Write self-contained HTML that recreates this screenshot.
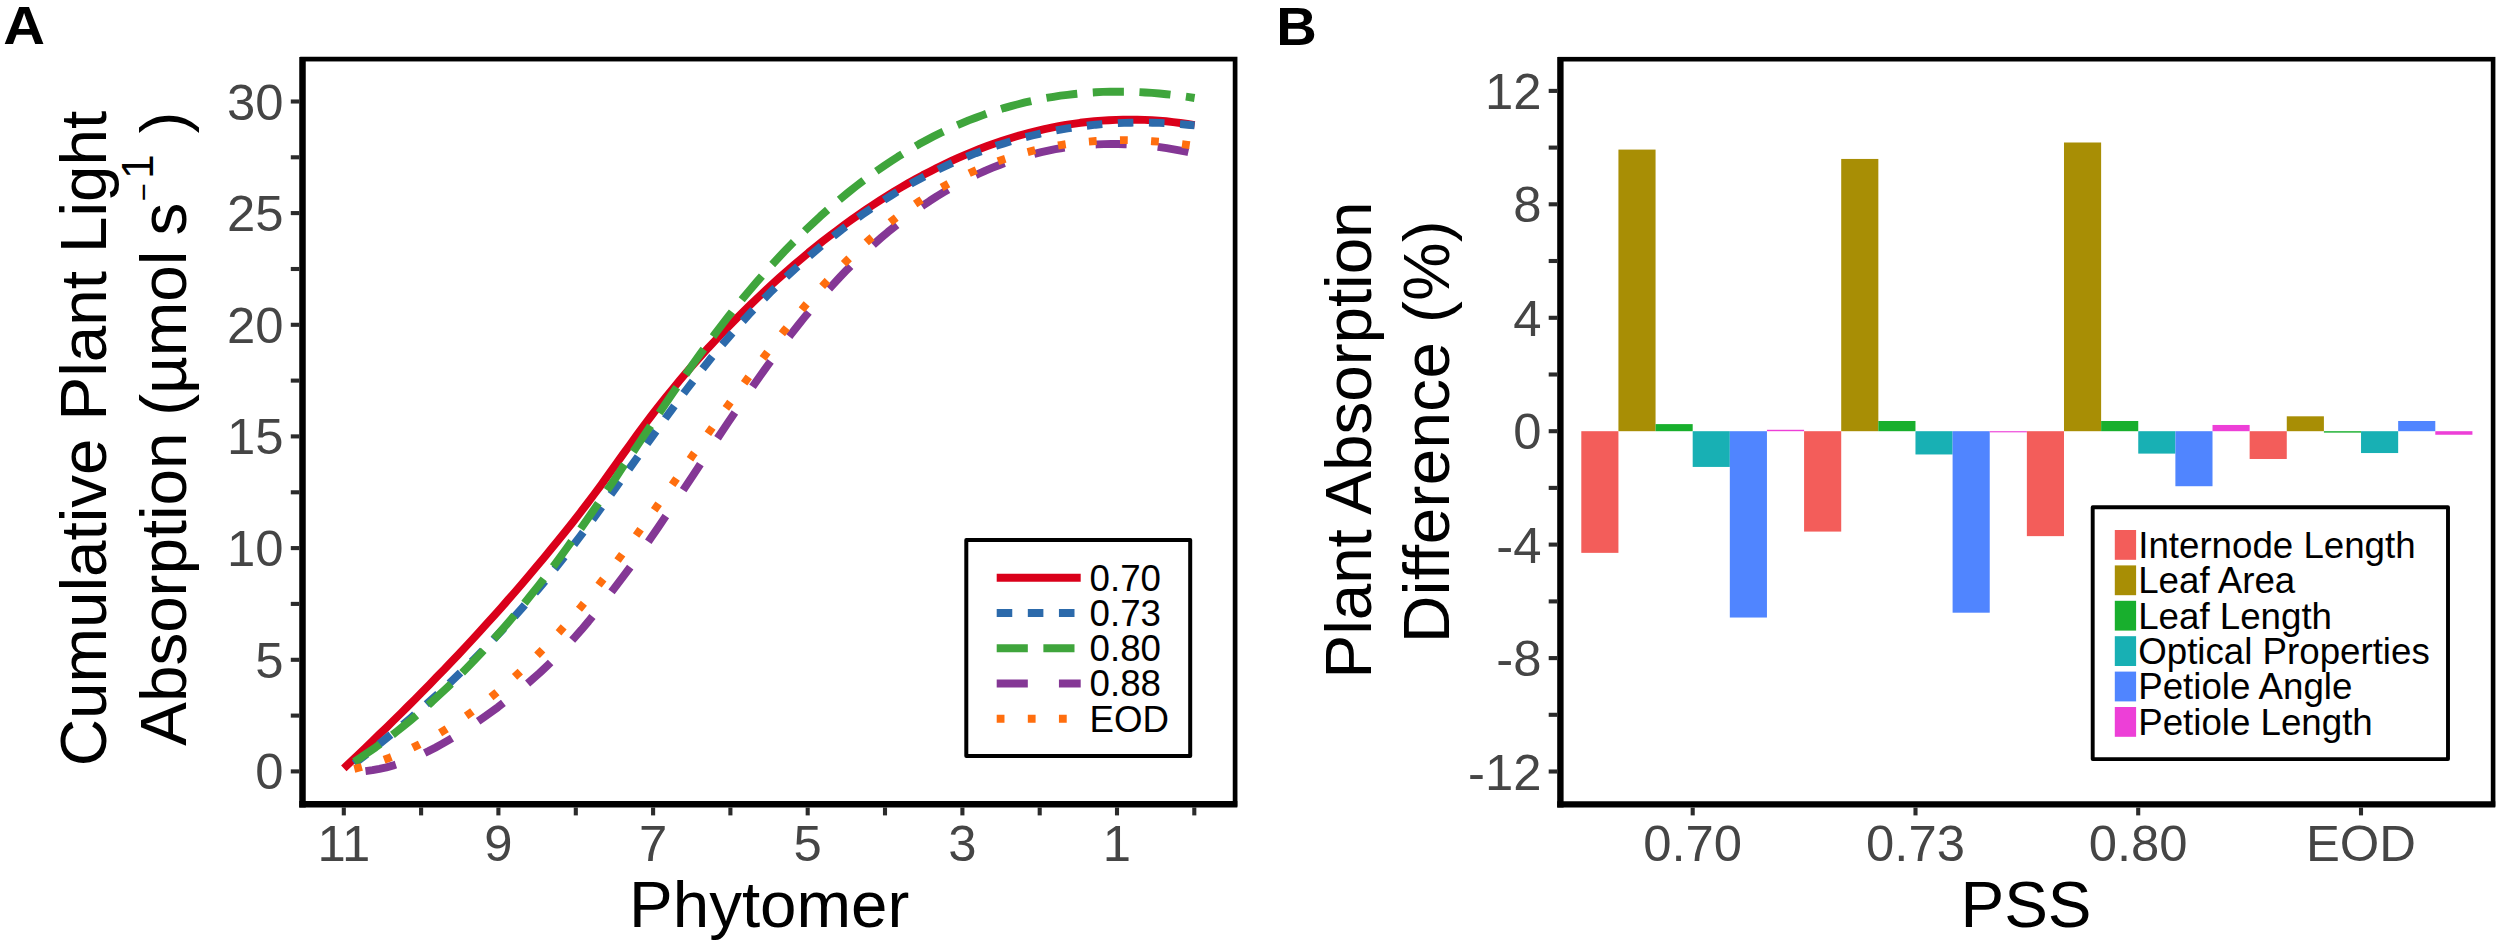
<!DOCTYPE html>
<html lang="en"><head><meta charset="utf-8"><title>Figure: plant light absorption</title>
<style>html,body{margin:0;padding:0;background:#fff}svg{display:block}text{font-family:"Liberation Sans", Arial, Helvetica, sans-serif}</style>
</head><body>
<svg width="2500" height="945" viewBox="0 0 2500 945">
<rect x="0" y="0" width="2500" height="945" fill="#fff"/>
<g id="panelA">
<path d="M343.8,768.3 L350.9,761.6 L358.1,754.8 L365.2,748.0 L372.4,741.1 L379.5,734.2 L386.7,727.3 L393.8,720.3 L401.0,713.2 L408.1,706.1 L415.3,699.0 L422.4,691.8 L429.6,684.5 L436.7,677.1 L443.9,669.7 L451.0,662.2 L458.2,654.7 L465.3,647.1 L472.5,639.4 L479.6,631.6 L486.8,623.7 L493.9,615.8 L501.1,607.8 L508.2,599.7 L515.4,591.5 L522.5,583.2 L529.7,574.8 L536.8,566.3 L544.0,557.8 L551.1,549.1 L558.3,540.3 L565.4,531.5 L572.6,522.5 L579.7,513.3 L586.9,504.0 L594.0,494.5 L601.2,484.8 L608.3,474.9 L615.5,464.9 L622.6,454.9 L629.8,445.0 L636.9,435.1 L644.1,425.4 L651.2,416.0 L658.4,406.7 L665.5,397.7 L672.7,388.9 L679.8,380.3 L687.0,371.8 L694.1,363.6 L701.3,355.6 L708.4,347.7 L715.6,340.1 L722.7,332.5 L729.9,325.2 L737.0,317.9 L744.2,310.8 L751.3,303.9 L758.5,297.0 L765.6,290.3 L772.8,283.7 L779.9,277.3 L787.1,271.0 L794.2,264.8 L801.4,258.7 L808.5,252.7 L815.7,246.9 L822.8,241.2 L830.0,235.7 L837.1,230.3 L844.3,224.9 L851.4,219.8 L858.6,214.7 L865.7,209.8 L872.9,205.0 L880.0,200.4 L887.2,195.8 L894.3,191.4 L901.5,187.2 L908.6,183.0 L915.8,179.0 L922.9,175.1 L930.1,171.4 L937.2,167.7 L944.4,164.2 L951.5,160.9 L958.7,157.7 L965.8,154.6 L973.0,151.6 L980.1,148.7 L987.3,146.0 L994.4,143.5 L1001.6,141.0 L1008.7,138.7 L1015.9,136.5 L1023.0,134.5 L1030.2,132.5 L1037.3,130.8 L1044.5,129.1 L1051.6,127.6 L1058.8,126.2 L1065.9,124.9 L1073.1,123.8 L1080.2,122.8 L1087.4,122.0 L1094.5,121.2 L1101.7,120.6 L1108.8,120.2 L1116.0,119.9 L1123.1,119.7 L1130.3,119.6 L1137.4,119.7 L1144.6,119.9 L1151.7,120.2 L1158.9,120.7 L1166.0,121.3 L1173.2,122.1 L1180.3,123.0 L1187.5,124.0 L1194.6,125.1" fill="none" stroke="#DA001A" stroke-width="7.9" stroke-linejoin="round"/>
<path d="M354.3,763.6 L361.4,758.2 L368.4,752.6 L375.5,747.1 L382.5,741.4 L389.6,735.6 L396.7,729.8 L403.7,723.9 L410.8,717.9 L417.9,711.8 L424.9,705.6 L432.0,699.3 L439.0,692.9 L446.1,686.3 L453.2,679.7 L460.2,672.9 L467.3,666.1 L474.3,659.0 L481.4,651.9 L488.5,644.6 L495.5,637.2 L502.6,629.7 L509.6,622.0 L516.7,614.1 L523.8,606.1 L530.8,597.9 L537.9,589.6 L545.0,581.1 L552.0,572.4 L559.1,563.6 L566.1,554.6 L573.2,545.4 L580.3,536.1 L587.3,526.6 L594.4,517.1 L601.4,507.4 L608.5,497.7 L615.6,487.9 L622.6,478.0 L629.7,468.1 L636.8,458.2 L643.8,448.3 L650.9,438.4 L657.9,428.6 L665.0,418.8 L672.1,409.1 L679.1,399.5 L686.2,390.0 L693.2,380.8 L700.3,371.6 L707.4,362.7 L714.4,354.0 L721.5,345.5 L728.6,337.3 L735.6,329.2 L742.7,321.4 L749.7,313.7 L756.8,306.2 L763.9,298.9 L770.9,291.8 L778.0,284.9 L785.0,278.1 L792.1,271.5 L799.2,265.1 L806.2,258.8 L813.3,252.7 L820.3,246.8 L827.4,241.0 L834.5,235.3 L841.5,229.8 L848.6,224.5 L855.7,219.3 L862.7,214.3 L869.8,209.4 L876.8,204.6 L883.9,200.1 L891.0,195.6 L898.0,191.3 L905.1,187.2 L912.1,183.1 L919.2,179.3 L926.3,175.5 L933.3,171.9 L940.4,168.5 L947.5,165.2 L954.5,162.0 L961.6,158.9 L968.6,156.0 L975.7,153.2 L982.8,150.6 L989.8,148.0 L996.9,145.6 L1003.9,143.4 L1011.0,141.2 L1018.1,139.2 L1025.1,137.3 L1032.2,135.5 L1039.3,133.8 L1046.3,132.3 L1053.4,130.9 L1060.4,129.6 L1067.5,128.4 L1074.6,127.3 L1081.6,126.3 L1088.7,125.5 L1095.7,124.7 L1102.8,124.1 L1109.9,123.6 L1116.9,123.2 L1124.0,122.9 L1131.0,122.7 L1138.1,122.6 L1145.2,122.6 L1152.2,122.7 L1159.3,122.9 L1166.4,123.2 L1173.4,123.6 L1180.5,124.1 L1187.5,124.7 L1194.6,125.4" fill="none" stroke="#2C6AAB" stroke-width="7.9" stroke-linejoin="round" stroke-dasharray="15.56 15.56"/>
<path d="M354.3,761.7 L361.4,757.1 L368.4,752.3 L375.5,747.4 L382.5,742.3 L389.6,737.0 L396.7,731.5 L403.7,725.9 L410.8,720.1 L417.9,714.1 L424.9,708.0 L432.0,701.7 L439.0,695.2 L446.1,688.6 L453.2,681.8 L460.2,674.8 L467.3,667.6 L474.3,660.3 L481.4,652.8 L488.5,645.1 L495.5,637.2 L502.6,629.2 L509.6,621.0 L516.7,612.6 L523.8,604.1 L530.8,595.3 L537.9,586.4 L545.0,577.3 L552.0,568.1 L559.1,558.6 L566.1,549.0 L573.2,539.2 L580.3,529.3 L587.3,519.2 L594.4,509.0 L601.4,498.7 L608.5,488.3 L615.6,477.9 L622.6,467.4 L629.7,456.9 L636.8,446.4 L643.8,435.9 L650.9,425.3 L657.9,414.9 L665.0,404.5 L672.1,394.1 L679.1,383.9 L686.2,373.8 L693.2,363.8 L700.3,353.9 L707.4,344.2 L714.4,334.7 L721.5,325.4 L728.6,316.2 L735.6,307.3 L742.7,298.6 L749.7,290.2 L756.8,281.9 L763.9,273.8 L770.9,265.9 L778.0,258.2 L785.0,250.8 L792.1,243.5 L799.2,236.4 L806.2,229.5 L813.3,222.8 L820.3,216.3 L827.4,210.0 L834.5,203.8 L841.5,197.9 L848.6,192.1 L855.7,186.5 L862.7,181.1 L869.8,175.9 L876.8,170.9 L883.9,166.0 L891.0,161.3 L898.0,156.7 L905.1,152.4 L912.1,148.2 L919.2,144.1 L926.3,140.3 L933.3,136.6 L940.4,133.0 L947.5,129.7 L954.5,126.4 L961.6,123.4 L968.6,120.4 L975.7,117.7 L982.8,115.1 L989.8,112.6 L996.9,110.3 L1003.9,108.1 L1011.0,106.1 L1018.1,104.2 L1025.1,102.4 L1032.2,100.8 L1039.3,99.3 L1046.3,98.0 L1053.4,96.8 L1060.4,95.7 L1067.5,94.8 L1074.6,94.0 L1081.6,93.3 L1088.7,92.7 L1095.7,92.3 L1102.8,91.9 L1109.9,91.7 L1116.9,91.7 L1124.0,91.7 L1131.0,91.8 L1138.1,92.1 L1145.2,92.5 L1152.2,92.9 L1159.3,93.5 L1166.4,94.2 L1173.4,95.0 L1180.5,95.9 L1187.5,96.9 L1194.6,98.0" fill="none" stroke="#3FA53C" stroke-width="7.9" stroke-linejoin="round" stroke-dasharray="31.12 15.56"/>
<path d="M365.5,771.1 L372.5,770.2 L379.4,768.9 L386.4,767.4 L393.4,765.4 L400.3,763.2 L407.3,760.6 L414.3,757.8 L421.2,754.7 L428.2,751.3 L435.2,747.7 L442.1,743.9 L449.1,739.8 L456.1,735.6 L463.0,731.2 L470.0,726.7 L477.0,722.0 L483.9,717.2 L490.9,712.3 L497.9,707.2 L504.8,701.9 L511.8,696.5 L518.8,690.9 L525.7,685.1 L532.7,679.1 L539.7,672.9 L546.6,666.4 L553.6,659.6 L560.6,652.6 L567.5,645.3 L574.5,637.6 L581.5,629.7 L588.5,621.4 L595.4,612.8 L602.4,603.8 L609.4,594.7 L616.3,585.6 L623.3,576.3 L630.3,566.9 L637.2,557.3 L644.2,547.5 L651.2,537.5 L658.1,527.4 L665.1,517.1 L672.1,506.8 L679.0,496.4 L686.0,485.9 L693.0,475.4 L699.9,464.8 L706.9,454.3 L713.9,443.8 L720.8,433.3 L727.8,422.9 L734.8,412.6 L741.7,402.3 L748.7,392.2 L755.7,382.2 L762.6,372.4 L769.6,362.7 L776.6,353.2 L783.5,343.9 L790.5,334.8 L797.5,326.0 L804.4,317.4 L811.4,309.0 L818.4,300.9 L825.3,293.0 L832.3,285.3 L839.3,277.8 L846.2,270.6 L853.2,263.6 L860.2,256.9 L867.1,250.3 L874.1,244.0 L881.1,237.8 L888.0,231.9 L895.0,226.3 L902.0,220.8 L908.9,215.5 L915.9,210.4 L922.9,205.6 L929.8,200.9 L936.8,196.4 L943.8,192.2 L950.7,188.1 L957.7,184.2 L964.7,180.6 L971.6,177.1 L978.6,173.8 L985.6,170.6 L992.6,167.7 L999.5,165.0 L1006.5,162.4 L1013.5,160.0 L1020.4,157.8 L1027.4,155.7 L1034.4,153.8 L1041.3,152.1 L1048.3,150.6 L1055.3,149.2 L1062.2,148.0 L1069.2,147.0 L1076.2,146.1 L1083.1,145.4 L1090.1,144.8 L1097.1,144.4 L1104.0,144.1 L1111.0,144.0 L1118.0,144.0 L1124.9,144.2 L1131.9,144.5 L1138.9,145.0 L1145.8,145.6 L1152.8,146.3 L1159.8,147.2 L1166.7,148.2 L1173.7,149.4 L1180.7,150.6 L1187.6,152.0 L1194.6,153.6" fill="none" stroke="#843795" stroke-width="7.9" stroke-linejoin="round" stroke-dasharray="31.12 31.12"/>
<path d="M354.3,768.8 L361.4,767.0 L368.4,765.0 L375.5,762.8 L382.5,760.3 L389.6,757.7 L396.7,754.9 L403.7,751.8 L410.8,748.6 L417.9,745.1 L424.9,741.5 L432.0,737.6 L439.0,733.5 L446.1,729.2 L453.2,724.7 L460.2,720.0 L467.3,715.1 L474.3,710.0 L481.4,704.7 L488.5,699.1 L495.5,693.4 L502.6,687.4 L509.6,681.3 L516.7,674.9 L523.8,668.3 L530.8,661.5 L537.9,654.4 L545.0,647.2 L552.0,639.7 L559.1,632.1 L566.1,624.2 L573.2,616.1 L580.3,607.7 L587.3,599.2 L594.4,590.5 L601.4,581.5 L608.5,572.4 L615.6,563.1 L622.6,553.7 L629.7,544.2 L636.8,534.5 L643.8,524.7 L650.9,514.8 L657.9,504.9 L665.0,494.9 L672.1,484.9 L679.1,474.8 L686.2,464.7 L693.2,454.6 L700.3,444.5 L707.4,434.5 L714.4,424.5 L721.5,414.5 L728.6,404.6 L735.6,394.8 L742.7,385.2 L749.7,375.6 L756.8,366.2 L763.9,356.8 L770.9,347.7 L778.0,338.7 L785.0,329.8 L792.1,321.2 L799.2,312.7 L806.2,304.4 L813.3,296.2 L820.3,288.3 L827.4,280.6 L834.5,273.2 L841.5,265.9 L848.6,258.9 L855.7,252.1 L862.7,245.6 L869.8,239.2 L876.8,233.2 L883.9,227.3 L891.0,221.7 L898.0,216.3 L905.1,211.1 L912.1,206.1 L919.2,201.3 L926.3,196.7 L933.3,192.4 L940.4,188.2 L947.5,184.3 L954.5,180.5 L961.6,176.9 L968.6,173.5 L975.7,170.3 L982.8,167.3 L989.8,164.4 L996.9,161.7 L1003.9,159.2 L1011.0,156.9 L1018.1,154.7 L1025.1,152.7 L1032.2,150.9 L1039.3,149.2 L1046.3,147.7 L1053.4,146.3 L1060.4,145.1 L1067.5,144.0 L1074.6,143.0 L1081.6,142.2 L1088.7,141.6 L1095.7,141.0 L1102.8,140.6 L1109.9,140.3 L1116.9,140.2 L1124.0,140.1 L1131.0,140.2 L1138.1,140.4 L1145.2,140.7 L1152.2,141.2 L1159.3,141.7 L1166.4,142.3 L1173.4,143.0 L1180.5,143.9 L1187.5,144.8 L1194.6,145.8" fill="none" stroke="#FF6E0E" stroke-width="7.9" stroke-linejoin="round" stroke-dasharray="7.78 23.34"/>
<rect x="302.5" y="59.1" width="932.6" height="745.2" fill="none" stroke="#000" stroke-width="4.7"/>
<line x1="302.5" y1="56.9" x2="302.5" y2="807.5" stroke="#000" stroke-width="6.5"/>
<line x1="299.25" y1="804.3" x2="1237.3" y2="804.3" stroke="#000" stroke-width="6.4"/>
<line x1="290.8" y1="771.4" x2="299.3" y2="771.4" stroke="#2b2b2b" stroke-width="4.1"/>
<line x1="290.8" y1="715.6" x2="299.3" y2="715.6" stroke="#2b2b2b" stroke-width="4.1"/>
<line x1="290.8" y1="659.8" x2="299.3" y2="659.8" stroke="#2b2b2b" stroke-width="4.1"/>
<line x1="290.8" y1="603.9" x2="299.3" y2="603.9" stroke="#2b2b2b" stroke-width="4.1"/>
<line x1="290.8" y1="548.1" x2="299.3" y2="548.1" stroke="#2b2b2b" stroke-width="4.1"/>
<line x1="290.8" y1="492.3" x2="299.3" y2="492.3" stroke="#2b2b2b" stroke-width="4.1"/>
<line x1="290.8" y1="436.4" x2="299.3" y2="436.4" stroke="#2b2b2b" stroke-width="4.1"/>
<line x1="290.8" y1="380.6" x2="299.3" y2="380.6" stroke="#2b2b2b" stroke-width="4.1"/>
<line x1="290.8" y1="324.8" x2="299.3" y2="324.8" stroke="#2b2b2b" stroke-width="4.1"/>
<line x1="290.8" y1="269.0" x2="299.3" y2="269.0" stroke="#2b2b2b" stroke-width="4.1"/>
<line x1="290.8" y1="213.1" x2="299.3" y2="213.1" stroke="#2b2b2b" stroke-width="4.1"/>
<line x1="290.8" y1="157.3" x2="299.3" y2="157.3" stroke="#2b2b2b" stroke-width="4.1"/>
<line x1="290.8" y1="101.5" x2="299.3" y2="101.5" stroke="#2b2b2b" stroke-width="4.1"/>
<text x="283.5" y="789.4" font-size="50.8" fill="#454545" text-anchor="end">0</text>
<text x="283.5" y="677.8" font-size="50.8" fill="#454545" text-anchor="end">5</text>
<text x="283.5" y="566.1" font-size="50.8" fill="#454545" text-anchor="end">10</text>
<text x="283.5" y="454.4" font-size="50.8" fill="#454545" text-anchor="end">15</text>
<text x="283.5" y="342.8" font-size="50.8" fill="#454545" text-anchor="end">20</text>
<text x="283.5" y="231.1" font-size="50.8" fill="#454545" text-anchor="end">25</text>
<text x="283.5" y="119.5" font-size="50.8" fill="#454545" text-anchor="end">30</text>
<line x1="1194.3" y1="807.5" x2="1194.3" y2="815.4" stroke="#2b2b2b" stroke-width="4.1"/>
<line x1="1117.0" y1="807.5" x2="1117.0" y2="815.4" stroke="#2b2b2b" stroke-width="4.1"/>
<line x1="1039.7" y1="807.5" x2="1039.7" y2="815.4" stroke="#2b2b2b" stroke-width="4.1"/>
<line x1="962.4" y1="807.5" x2="962.4" y2="815.4" stroke="#2b2b2b" stroke-width="4.1"/>
<line x1="885.0" y1="807.5" x2="885.0" y2="815.4" stroke="#2b2b2b" stroke-width="4.1"/>
<line x1="807.7" y1="807.5" x2="807.7" y2="815.4" stroke="#2b2b2b" stroke-width="4.1"/>
<line x1="730.4" y1="807.5" x2="730.4" y2="815.4" stroke="#2b2b2b" stroke-width="4.1"/>
<line x1="653.1" y1="807.5" x2="653.1" y2="815.4" stroke="#2b2b2b" stroke-width="4.1"/>
<line x1="575.8" y1="807.5" x2="575.8" y2="815.4" stroke="#2b2b2b" stroke-width="4.1"/>
<line x1="498.4" y1="807.5" x2="498.4" y2="815.4" stroke="#2b2b2b" stroke-width="4.1"/>
<line x1="421.1" y1="807.5" x2="421.1" y2="815.4" stroke="#2b2b2b" stroke-width="4.1"/>
<line x1="343.8" y1="807.5" x2="343.8" y2="815.4" stroke="#2b2b2b" stroke-width="4.1"/>
<text x="343.8" y="861" font-size="50.8" fill="#454545" text-anchor="middle">11</text>
<text x="498.4" y="861" font-size="50.8" fill="#454545" text-anchor="middle">9</text>
<text x="653.1" y="861" font-size="50.8" fill="#454545" text-anchor="middle">7</text>
<text x="807.7" y="861" font-size="50.8" fill="#454545" text-anchor="middle">5</text>
<text x="962.4" y="861" font-size="50.8" fill="#454545" text-anchor="middle">3</text>
<text x="1117.0" y="861" font-size="50.8" fill="#454545" text-anchor="middle">1</text>
<text x="769.2" y="927" font-size="65.5" fill="#000" text-anchor="middle">Phytomer</text>
<text transform="translate(106.2,438.6) rotate(-90)" font-size="65.5" fill="#000" text-anchor="middle">Cumulative Plant Light</text>
<text transform="translate(186.4,745.7) rotate(-90)" font-size="65.5" fill="#000" text-anchor="start">Absorption</text>
<text transform="translate(186.4,415.8) rotate(-90)" font-size="65.5" fill="#000" text-anchor="start">(µmol</text>
<text transform="translate(186.4,235.5) rotate(-90)" font-size="65.5" fill="#000" text-anchor="start">s</text>
<text transform="translate(153.5,201.5) rotate(-90)" font-size="31" fill="#000" text-anchor="start">−</text>
<text transform="translate(152.6,179) rotate(-90)" font-size="44.5" fill="#000" text-anchor="start">1</text>
<text transform="translate(186.4,133.5) rotate(-90)" font-size="65.5" fill="#000" text-anchor="start">)</text>
<rect x="966.3" y="539.9" width="223.9" height="216.2" fill="#fff" stroke="#000" stroke-width="4" stroke-linejoin="round"/>
<line x1="996.7" y1="577.8" x2="1080.7" y2="577.8" stroke="#DA001A" stroke-width="7.9"/>
<text x="1089.6" y="590.7" font-size="36.7" fill="#000">0.70</text>
<line x1="996.7" y1="613.0" x2="1080.7" y2="613.0" stroke="#2C6AAB" stroke-width="7.9" stroke-dasharray="15.56 15.56"/>
<text x="1089.6" y="625.9" font-size="36.7" fill="#000">0.73</text>
<line x1="996.7" y1="648.3" x2="1080.7" y2="648.3" stroke="#3FA53C" stroke-width="7.9" stroke-dasharray="31.12 15.56"/>
<text x="1089.6" y="661.2" font-size="36.7" fill="#000">0.80</text>
<line x1="996.7" y1="683.5" x2="1080.7" y2="683.5" stroke="#843795" stroke-width="7.9" stroke-dasharray="31.12 31.12"/>
<text x="1089.6" y="696.4" font-size="36.7" fill="#000">0.88</text>
<line x1="996.7" y1="718.8" x2="1080.7" y2="718.8" stroke="#FF6E0E" stroke-width="7.9" stroke-dasharray="7.78 23.34"/>
<text x="1089.6" y="731.7" font-size="36.7" fill="#000">EOD</text>
<text transform="translate(3.2,44.3) scale(1.07,1)" font-size="54" font-weight="bold" fill="#000">A</text>
</g>
<g id="panelB">
<rect x="1581.30" y="431.20" width="37.13" height="121.66" fill="#F35D5A"/>
<rect x="1618.43" y="149.59" width="37.13" height="281.61" fill="#A88E05"/>
<rect x="1655.56" y="424.11" width="37.13" height="7.09" fill="#18AF2D"/>
<rect x="1692.69" y="431.20" width="37.13" height="35.73" fill="#18B0B4"/>
<rect x="1729.82" y="431.20" width="37.13" height="186.33" fill="#5085FF"/>
<rect x="1766.95" y="429.78" width="37.13" height="1.42" fill="#ED3FD7"/>
<rect x="1804.08" y="431.20" width="37.13" height="100.39" fill="#F35D5A"/>
<rect x="1841.21" y="158.94" width="37.13" height="272.26" fill="#A88E05"/>
<rect x="1878.34" y="420.99" width="37.13" height="10.21" fill="#18AF2D"/>
<rect x="1915.47" y="431.20" width="37.13" height="23.26" fill="#18B0B4"/>
<rect x="1952.60" y="431.20" width="37.13" height="181.50" fill="#5085FF"/>
<rect x="1989.73" y="431.20" width="37.13" height="1.13" fill="#ED3FD7"/>
<rect x="2026.86" y="431.20" width="37.13" height="104.93" fill="#F35D5A"/>
<rect x="2063.99" y="142.50" width="37.13" height="288.70" fill="#A88E05"/>
<rect x="2101.12" y="420.99" width="37.13" height="10.21" fill="#18AF2D"/>
<rect x="2138.25" y="431.20" width="37.13" height="22.40" fill="#18B0B4"/>
<rect x="2175.38" y="431.20" width="37.13" height="55.02" fill="#5085FF"/>
<rect x="2212.51" y="424.96" width="37.13" height="6.24" fill="#ED3FD7"/>
<rect x="2249.64" y="431.20" width="37.13" height="27.79" fill="#F35D5A"/>
<rect x="2286.77" y="416.31" width="37.13" height="14.89" fill="#A88E05"/>
<rect x="2323.90" y="431.20" width="37.13" height="1.42" fill="#18AF2D"/>
<rect x="2361.03" y="431.20" width="37.13" height="21.84" fill="#18B0B4"/>
<rect x="2398.16" y="420.99" width="37.13" height="10.21" fill="#5085FF"/>
<rect x="2435.29" y="431.20" width="37.13" height="3.55" fill="#ED3FD7"/>
<rect x="1560.4" y="59.2" width="932.7" height="745.2" fill="none" stroke="#000" stroke-width="4.6"/>
<line x1="1560.4" y1="57.050000000000004" x2="1560.4" y2="807.6" stroke="#000" stroke-width="6.4"/>
<line x1="1557.2" y1="804.4" x2="2495.25" y2="804.4" stroke="#000" stroke-width="6.4"/>
<line x1="1548.7" y1="771.5" x2="1557.2" y2="771.5" stroke="#2b2b2b" stroke-width="4.1"/>
<line x1="1548.7" y1="714.8" x2="1557.2" y2="714.8" stroke="#2b2b2b" stroke-width="4.1"/>
<line x1="1548.7" y1="658.1" x2="1557.2" y2="658.1" stroke="#2b2b2b" stroke-width="4.1"/>
<line x1="1548.7" y1="601.4" x2="1557.2" y2="601.4" stroke="#2b2b2b" stroke-width="4.1"/>
<line x1="1548.7" y1="544.6" x2="1557.2" y2="544.6" stroke="#2b2b2b" stroke-width="4.1"/>
<line x1="1548.7" y1="487.9" x2="1557.2" y2="487.9" stroke="#2b2b2b" stroke-width="4.1"/>
<line x1="1548.7" y1="431.2" x2="1557.2" y2="431.2" stroke="#2b2b2b" stroke-width="4.1"/>
<line x1="1548.7" y1="374.5" x2="1557.2" y2="374.5" stroke="#2b2b2b" stroke-width="4.1"/>
<line x1="1548.7" y1="317.8" x2="1557.2" y2="317.8" stroke="#2b2b2b" stroke-width="4.1"/>
<line x1="1548.7" y1="261.0" x2="1557.2" y2="261.0" stroke="#2b2b2b" stroke-width="4.1"/>
<line x1="1548.7" y1="204.3" x2="1557.2" y2="204.3" stroke="#2b2b2b" stroke-width="4.1"/>
<line x1="1548.7" y1="147.6" x2="1557.2" y2="147.6" stroke="#2b2b2b" stroke-width="4.1"/>
<line x1="1548.7" y1="90.9" x2="1557.2" y2="90.9" stroke="#2b2b2b" stroke-width="4.1"/>
<text x="1541.5" y="789.5" font-size="50.8" fill="#454545" text-anchor="end">-12</text>
<text x="1541.5" y="676.1" font-size="50.8" fill="#454545" text-anchor="end">-8</text>
<text x="1541.5" y="562.6" font-size="50.8" fill="#454545" text-anchor="end">-4</text>
<text x="1541.5" y="449.2" font-size="50.8" fill="#454545" text-anchor="end">0</text>
<text x="1541.5" y="335.8" font-size="50.8" fill="#454545" text-anchor="end">4</text>
<text x="1541.5" y="222.3" font-size="50.8" fill="#454545" text-anchor="end">8</text>
<text x="1541.5" y="108.9" font-size="50.8" fill="#454545" text-anchor="end">12</text>
<line x1="1692.7" y1="807.6" x2="1692.7" y2="815.4" stroke="#2b2b2b" stroke-width="4.1"/>
<text x="1692.7" y="861" font-size="50.8" fill="#454545" text-anchor="middle">0.70</text>
<line x1="1915.5" y1="807.6" x2="1915.5" y2="815.4" stroke="#2b2b2b" stroke-width="4.1"/>
<text x="1915.5" y="861" font-size="50.8" fill="#454545" text-anchor="middle">0.73</text>
<line x1="2138.2" y1="807.6" x2="2138.2" y2="815.4" stroke="#2b2b2b" stroke-width="4.1"/>
<text x="2138.2" y="861" font-size="50.8" fill="#454545" text-anchor="middle">0.80</text>
<line x1="2361.0" y1="807.6" x2="2361.0" y2="815.4" stroke="#2b2b2b" stroke-width="4.1"/>
<text x="2361.0" y="861" font-size="50.8" fill="#454545" text-anchor="middle">EOD</text>
<text x="2026" y="926.6" font-size="65.5" fill="#000" text-anchor="middle">PSS</text>
<text transform="translate(1370.6,440) rotate(-90)" font-size="65.5" fill="#000" text-anchor="middle">Plant Absorption</text>
<text transform="translate(1448.6,431.5) rotate(-90)" font-size="65.5" fill="#000" text-anchor="middle" letter-spacing="0.4">Difference (%)</text>
<rect x="2092.7" y="507.3" width="355.3" height="251.8" fill="#fff" stroke="#000" stroke-width="3.9" stroke-linejoin="round"/>
<rect x="2114.8" y="530.0" width="21.3" height="29.8" fill="#F35D5A"/>
<text x="2138.2" y="558.0" font-size="36.7" fill="#000">Internode Length</text>
<rect x="2114.8" y="565.4" width="21.3" height="29.8" fill="#A88E05"/>
<text x="2138.2" y="593.3" font-size="36.7" fill="#000">Leaf Area</text>
<rect x="2114.8" y="600.8" width="21.3" height="29.8" fill="#18AF2D"/>
<text x="2138.2" y="628.7" font-size="36.7" fill="#000">Leaf Length</text>
<rect x="2114.8" y="636.2" width="21.3" height="29.8" fill="#18B0B4"/>
<text x="2138.2" y="664.0" font-size="36.7" fill="#000">Optical Properties</text>
<rect x="2114.8" y="671.6" width="21.3" height="29.8" fill="#5085FF"/>
<text x="2138.2" y="699.4" font-size="36.7" fill="#000">Petiole Angle</text>
<rect x="2114.8" y="707.0" width="21.3" height="29.8" fill="#ED3FD7"/>
<text x="2138.2" y="734.7" font-size="36.7" fill="#000">Petiole Length</text>
<text transform="translate(1276.3,44.6) scale(1.04,1)" font-size="54" font-weight="bold" fill="#000">B</text>
</g>
</svg></body></html>
